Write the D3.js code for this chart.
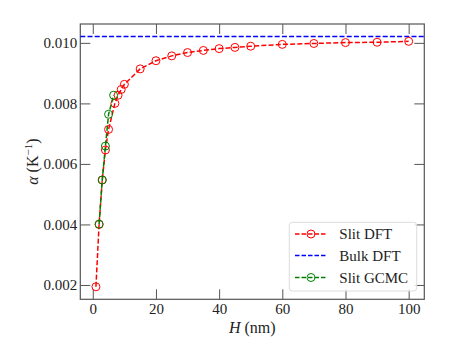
<!DOCTYPE html>
<html><head><meta charset="utf-8">
<script src="https://cdn.jsdelivr.net/npm/d3@7"></script>
<style>body{margin:0;background:#fff}svg{display:block}</style>
</head><body>
<svg id="c" width="449" height="359"></svg>
<script>
const dftH = [1,2,3,4,5,7,8,9,10,15,20,25,30,35,40,45,50,60,70,80,90,100];
const dftAlpha = [0.00194,0.00400,0.00547,0.00646,0.00714,0.00800,0.00827,0.00846,0.00863,0.00914,0.00941,0.00957,0.00968,0.00975,0.00981,0.00985,0.00989,0.00995,0.00998,0.01001,0.01002,0.01005];
const gcmcH = [2,3,4,5,6.6];
const gcmcAlpha = [0.00401,0.00547,0.00659,0.00764,0.00827];
const bulkAlpha = 0.01021;
const xTicks = [0,20,40,60,80,100];
const yTicks = [0.002,0.004,0.006,0.008,0.010];
const seriesNames = ["Slit DFT","Bulk DFT","Slit GCMC"];
const colors = ["#ff0000","#0000ff","#008000"];

const svg = d3.select("#c");
const L=80.3, T=24, R=424.3, B=299.3;
const font = "'Liberation Serif','DejaVu Serif',serif";

const xmin=1, xmax=100, xm=(xmax-xmin)*0.05;
const ymin=d3.min(dftAlpha), ymax=bulkAlpha, ym=(ymax-ymin)*0.05;
const x = d3.scaleLinear().domain([xmin-xm,xmax+xm]).range([L,R]);
const y = d3.scaleLinear().domain([ymin-ym,ymax+ym]).range([B,T]);

const axisStyle = g => {
  g.select(".domain").remove();
  g.selectAll(".tick line").attr("stroke","#555").attr("stroke-width",1);
  g.selectAll("text").attr("font-family",font).attr("font-size",15).attr("fill","#222");
};
svg.append("g").attr("transform",`translate(0,${B})`)
  .call(d3.axisBottom(x).tickValues(xTicks).tickFormat(d3.format("d")).tickSizeInner(-10).tickSizeOuter(0).tickPadding(4))
  .call(axisStyle);
svg.append("g").attr("transform",`translate(0,${T})`)
  .call(d3.axisTop(x).tickValues(xTicks).tickFormat("").tickSizeInner(-10).tickSizeOuter(0))
  .call(axisStyle);
svg.append("g").attr("transform",`translate(${L},0)`)
  .call(d3.axisLeft(y).tickValues(yTicks).tickFormat(d3.format(".3f")).tickSizeInner(-10).tickSizeOuter(0).tickPadding(3))
  .call(axisStyle);
svg.append("g").attr("transform",`translate(${R},0)`)
  .call(d3.axisRight(y).tickValues(yTicks).tickFormat("").tickSizeInner(-10).tickSizeOuter(0))
  .call(axisStyle);

svg.append("rect").attr("x",L).attr("y",T).attr("width",R-L).attr("height",B-T)
  .attr("fill","none").attr("stroke","#555").attr("stroke-width",1.2);

const clip = svg.append("clipPath").attr("id","clip").append("rect")
  .attr("x",L).attr("y",T).attr("width",R-L).attr("height",B-T);
const plot = svg.append("g").attr("clip-path","url(#clip)");

const line = d3.line().x(d=>x(d[0])).y(d=>y(d[1]));
const dash = "5,2.2";

// Bulk
plot.append("path").datum([[xmin-xm,bulkAlpha],[xmax+xm,bulkAlpha]])
  .attr("d",line).attr("fill","none").attr("stroke",colors[1]).attr("stroke-width",1.5).attr("stroke-dasharray",dash);

// Slit DFT
const dft = dftH.map((h,i)=>[h,dftAlpha[i]]);
plot.append("path").datum(dft).attr("d",line).attr("fill","none")
  .attr("stroke",colors[0]).attr("stroke-width",1.5).attr("stroke-dasharray",dash);
plot.selectAll(".dm").data(dft).enter().append("circle")
  .attr("cx",d=>x(d[0])).attr("cy",d=>y(d[1])).attr("r",4)
  .attr("fill","none").attr("stroke",colors[0]).attr("stroke-width",1);

// GCMC
const gc = gcmcH.map((h,i)=>[h,gcmcAlpha[i]]);
plot.append("path").datum(gc).attr("d",line).attr("fill","none")
  .attr("stroke",colors[2]).attr("stroke-width",1.5).attr("stroke-dasharray",dash);
plot.selectAll(".gm").data(gc).enter().append("circle")
  .attr("cx",d=>x(d[0])).attr("cy",d=>y(d[1])).attr("r",4)
  .attr("fill","none").attr("stroke",colors[2]).attr("stroke-width",1);

// Axis labels
svg.append("text").attr("x",(L+R)/2).attr("y",333).attr("text-anchor","middle")
  .attr("font-family",font).attr("font-size",16).attr("fill","#222")
  .call(t=>{t.append("tspan").attr("font-style","italic").text("H");t.append("tspan").text(" (nm)");});
const yl = svg.append("text").attr("transform",`translate(38,${(T+B)/2}) rotate(-90)`)
  .attr("text-anchor","middle").attr("font-family",font).attr("font-size",16).attr("fill","#222");
yl.append("tspan").attr("font-style","italic").text("α");
yl.append("tspan").text(" (K");
yl.append("tspan").attr("font-size",11).attr("dy",-6).text("−1");
yl.append("tspan").attr("dy",6).text(")");

// Legend
const lg = svg.append("g");
lg.append("rect").attr("x",289.3).attr("y",222.3).attr("width",127.4).attr("height",68.7)
  .attr("rx",3).attr("fill","#fff").attr("fill-opacity",0.8).attr("stroke","#ddd").attr("stroke-width",1);
const rows=[234,255.5,277.5];
seriesNames.forEach((n,i)=>{
  lg.append("line").attr("x1",295).attr("x2",327).attr("y1",rows[i]).attr("y2",rows[i])
    .attr("stroke",colors[i]).attr("stroke-width",1.5).attr("stroke-dasharray","4.5,2");
  if(i!==1) lg.append("circle").attr("cx",311).attr("cy",rows[i]).attr("r",4)
    .attr("fill","none").attr("stroke",colors[i]).attr("stroke-width",1);
  lg.append("text").attr("x",339.3).attr("y",rows[i]).attr("dy","0.35em")
    .attr("font-family",font).attr("font-size",15).attr("fill","#222").text(n);
});
</script>
</body></html>
